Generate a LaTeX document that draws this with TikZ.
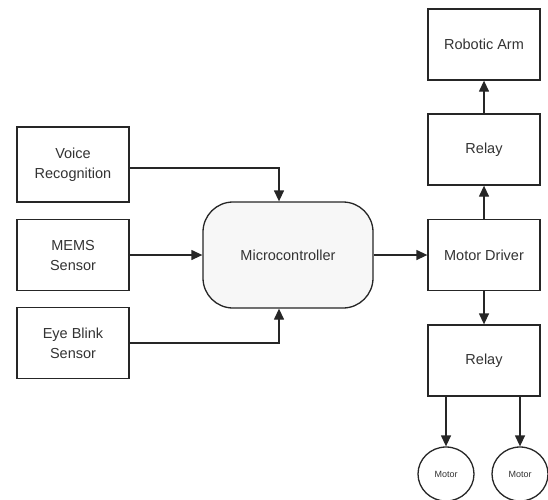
\documentclass[tikz,border=0pt]{standalone}
\usepackage{fontspec}
\setmainfont{Liberation Sans}
\usetikzlibrary{arrows.meta, positioning, shapes.geometric}

\tikzset{
  blockbox/.style={draw=black!85, line width=1.3pt, fill=white, minimum width=112pt,
    minimum height=71pt, align=center, font=\fontsize{14.5}{20}\selectfont, text=black!80},
  ctrlbox/.style={blockbox, rounded corners=30pt, fill=black!3, minimum width=170pt, minimum height=106pt},
  motorbox/.style={draw=black!85, line width=1.3pt, ellipse, minimum width=56pt, minimum height=54pt,
    inner sep=0pt, font=\fontsize{9}{11}\selectfont, text=black!80},
  link/.style={draw=black!85, line width=1.3pt, -{Triangle[width=10pt,length=11pt]}}
}

\begin{document}
\begin{tikzpicture}[x=1pt, y=-1pt]
    \useasboundingbox (0,0) rectangle (548,499);
    % sensors
    \node[blockbox, minimum height=75pt] (voice) at (73,164.5) {Voice\\Recognition};
    \node[blockbox] (mems) at (73,255) {MEMS\\Sensor};
    \node[blockbox] (eye) at (73,343) {Eye Blink\\Sensor};
    \node[ctrlbox] (micro) at (288,255) {Microcontroller};
    % output side
    \node[blockbox] (arm) at (484,44.5) {Robotic Arm};
    \node[blockbox] (relaya) at (484,149.5) {Relay};
    \node[blockbox] (driver) at (484,255) {Motor Driver};
    \node[blockbox] (relayb) at (484,360.5) {Relay};
    \node[motorbox] (motora) at (446,474) {Motor};
    \node[motorbox] (motorb) at (520,474) {Motor};
    % links
    \draw[link] (voice.east |- 0,168) -| (micro.north -| 279,0);
    \draw[link] (mems.east) -- (micro.west);
    \draw[link] (eye.east) -| (micro.south -| 279,0);
    \draw[link] (micro.east) -- (driver.west);
    \draw[link] (driver) -- (relaya);
    \draw[link] (relaya) -- (arm);
    \draw[link] (driver) -- (relayb);
    \draw[link] (relayb.south -| motora) -- (motora);
    \draw[link] (relayb.south -| motorb) -- (motorb);
\end{tikzpicture}
\end{document}
